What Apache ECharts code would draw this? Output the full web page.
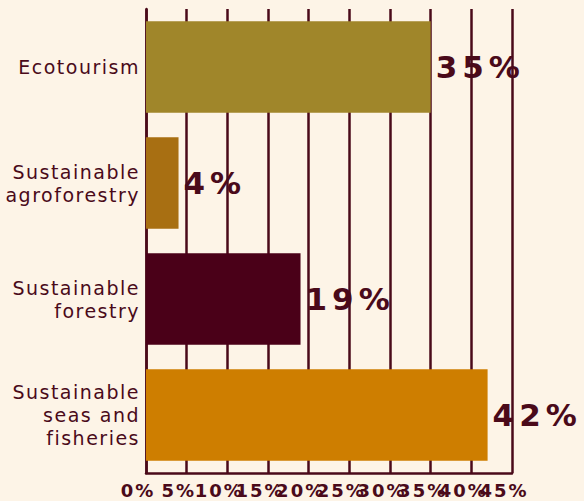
<!DOCTYPE html>
<html>
<head>
<meta charset="utf-8">
<script src="https://cdn.jsdelivr.net/npm/echarts@6/dist/echarts.min.js"></script>
<style>
  html, body { margin: 0; padding: 0; background: #FDF4E7; }
  #chart { width: 584px; height: 501px; }
  /* widen the lettering a little, per text size */
  #chart text[style*="19px"] { letter-spacing: 1.5px; }
  #chart text[style*="16px"] { font-size: 18px !important; letter-spacing: 2px; }
  #chart text[style*="31px"] { letter-spacing: 5px; }
</style>
</head>
<body>
<div id="chart"></div>
<script>
// Share of financing by sector (%)
const categories = [
  'Ecotourism',
  'Sustainable\nagroforestry',
  'Sustainable\nforestry',
  'Sustainable\nseas and\nfisheries'
];
const shares = [35, 4, 19, 42];
const barColors = ['#A0862A', '#A86F12', '#4A0018', '#CE7E00'];
const xTicks = { min: 0, max: 45, step: 5 };

const ink = '#4A0A1A';
const fontFamily = '"DejaVu Sans", Verdana, sans-serif';

const chart = echarts.init(document.getElementById('chart'), null, { renderer: 'svg' });

chart.setOption({
  backgroundColor: '#FDF4E7',
  animation: false,
  grid: { left: 146, right: 72, top: 9, bottom: 28, containLabel: false },
  xAxis: {
    type: 'value',
    min: xTicks.min,
    max: xTicks.max,
    interval: xTicks.step,
    axisLine: { show: true, lineStyle: { color: ink, width: 2.5 } },
    axisTick: { show: false },
    splitLine: { show: true, lineStyle: { color: ink, width: 2.5 } },
    axisLabel: {
      formatter: '{value}%',
      color: ink,
      fontFamily: fontFamily,
      fontWeight: 'bold',
      fontSize: 16,
      margin: 9,
      padding: [0, 16, 0, 0],
      showMinLabel: true,
      showMaxLabel: true,
      hideOverlap: false
    }
  },
  yAxis: {
    type: 'category',
    data: categories,
    inverse: true,
    axisLine: { show: true, lineStyle: { color: ink, width: 2.5 } },
    axisTick: { show: false },
    splitLine: { show: false },
    axisLabel: {
      color: ink,
      fontFamily: fontFamily,
      fontSize: 19,
      lineHeight: 23,
      margin: 6,
      align: 'right'
    }
  },
  series: [{
    type: 'bar',
    barCategoryGap: '21%',
    data: shares.map((v, i) => ({ value: v, itemStyle: { color: barColors[i] } })),
    label: {
      show: true,
      position: 'right',
      distance: 5,
      formatter: '{c}%',
      color: ink,
      fontFamily: fontFamily,
      fontWeight: 'bold',
      fontSize: 31
    }
  }]
});
</script>
</body>
</html>
